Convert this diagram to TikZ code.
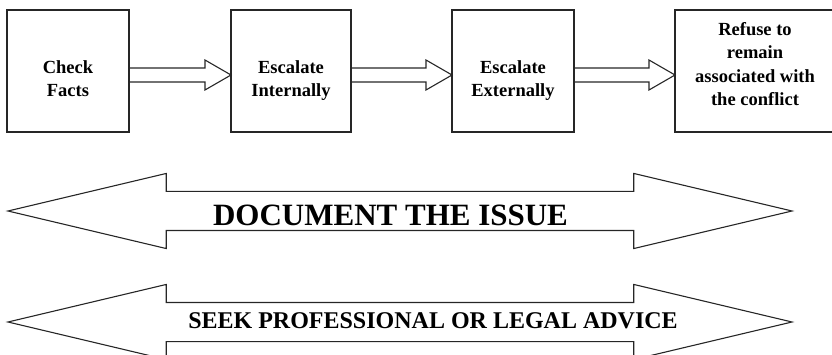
\documentclass[tikz,border=0pt]{standalone}
\usepackage{fontspec}
\setmainfont{Liberation Serif}
\usetikzlibrary{shapes.arrows}

\begin{document}
\begin{tikzpicture}[x=1pt,y=-1pt,
    box/.style = {rectangle,draw=black!85,line width=1.1pt,minimum height=122pt,inner sep=0pt,outer sep=0pt},
    boxtext/.style = {anchor=south,align=center,inner sep=0pt,text depth=0pt,font=\bfseries\fontsize{18.5}{23.5}\selectfont},
    fatarrow/.style = {draw=black!85,line width=1.1pt,line join=miter},
    bigarrow/.style = {double arrow,draw=black!85,line width=1.1pt,inner sep=0pt,inner ysep=19pt,
                       minimum height=784pt,double arrow head extend=18pt,double arrow tip angle=26.7}]
\useasboundingbox (0,0) rectangle (832,355);
% the four steps
\node[box,minimum width=122pt] (check) at (68,71) {};
\node[box,minimum width=120pt] (internal) at (291,71) {};
\node[box,minimum width=122pt] (external) at (513,71) {};
\node[box,minimum width=160pt] (refuse) at (755,71) {};
\node[boxtext] (checktxt) at (68,97) {Check\\Facts};
\node[boxtext] (internaltxt) at (291,97) {Escalate\\Internally};
\node[boxtext] (externaltxt) at (513,97) {Escalate\\Externally};
\node[boxtext] (refusetxt) at (755,106) {Refuse to\\remain\\associated with\\the conflict};
\foreach \a/\b in {check/internal, internal/external, external/refuse}
    \draw[fatarrow] ([yshift=3pt]\a.east) -- ([xshift=-26pt,yshift=3pt]\b.west) -- ([xshift=-26pt,yshift=11pt]\b.west)
        -- ([yshift=-4pt]\b.west) -- ([xshift=-26pt,yshift=-19pt]\b.west) -- ([xshift=-26pt,yshift=-11pt]\b.west)
        -- ([yshift=-11pt]\a.east);
% the two things to do all along
\node[bigarrow] (document) at (400,211) {};
\node[bigarrow] (advice) at (400,322) {};
\node[anchor=base,inner sep=0pt,font=\bfseries\fontsize{31}{31}\selectfont] (documenttxt) at (390.5,226) {DOCUMENT THE ISSUE};
\node[anchor=base,inner sep=0pt,font=\bfseries\fontsize{24}{24}\selectfont] (advicetxt) at (433,328) {SEEK PROFESSIONAL OR LEGAL ADVICE};
\end{tikzpicture}
\end{document}
